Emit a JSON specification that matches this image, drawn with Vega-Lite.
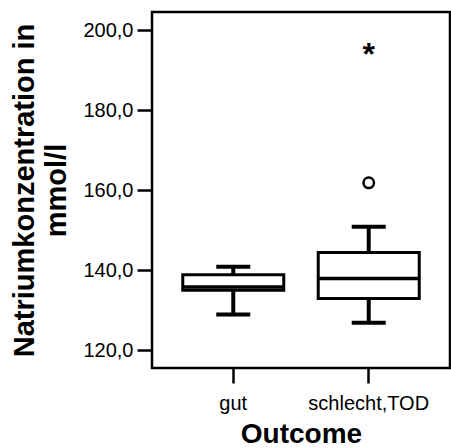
{
  "$schema": "https://vega.github.io/schema/vega-lite/v6.json",
  "width": 298,
  "height": 356,
  "autosize": "none",
  "padding": {"left": 152, "top": 12, "right": 1, "bottom": 80},
  "background": "white",
  "config": {
    "view": {"stroke": "black", "strokeWidth": 2.5},
    "axis": {"labelFont": "Liberation Sans", "titleFont": "Liberation Sans", "labelColor": "black", "titleColor": "black", "tickColor": "black", "grid": false, "domain": false},
    "tick": {"opacity": 1}
  },
  "datasets": {
    "boxes": [
      {"Outcome": "gut", "lower": 128.9, "q1": 134.95, "median": 135.75, "q3": 138.8, "upper": 140.8},
      {"Outcome": "schlecht,TOD", "lower": 126.8, "q1": 132.9, "median": 137.9, "q3": 144.4, "upper": 150.8}
    ],
    "outliers": [
      {"Outcome": "schlecht,TOD", "value": 161.8}
    ],
    "extremes": [
      {"Outcome": "schlecht,TOD", "value": 195.8}
    ]
  },
  "encoding": {
    "x": {
      "field": "Outcome", "type": "nominal",
      "scale": {"type": "band", "domain": ["gut", "schlecht,TOD"], "paddingInner": 0, "paddingOuter": 0.1},
      "axis": {"labelAngle": 0, "tickSize": 15, "tickWidth": 2.5, "labelFontSize": 20, "labelPadding": 10, "titleFontSize": 28, "titleFontWeight": "bold", "titlePadding": 7, "title": "Outcome"}
    }
  },
  "layer": [
    {
      "data": {"name": "boxes"},
      "mark": {"type": "rule", "color": "black", "strokeWidth": 4},
      "encoding": {
        "y": {"field": "lower", "type": "quantitative",
          "scale": {"domain": [115.5, 204.5], "nice": false, "zero": false},
          "axis": {"values": [120, 140, 160, 180, 200], "labelExpr": "replace(format(datum.value, '.1f'), '.', ',')", "tickSize": 15, "tickWidth": 2.5, "labelFontSize": 20, "labelPadding": 4, "title": ["Natriumkonzentration in", "mmol/l"], "titleFontSize": 29, "titleFontWeight": "bold", "titlePadding": 11, "titleLineHeight": 32, "titleAlign": "center"}},
        "y2": {"field": "upper"}
      }
    },
    {
      "data": {"name": "boxes"},
      "mark": {"type": "tick", "color": "black", "size": 34, "thickness": 4},
      "encoding": {"y": {"field": "lower", "type": "quantitative"}}
    },
    {
      "data": {"name": "boxes"},
      "mark": {"type": "tick", "color": "black", "size": 34, "thickness": 4},
      "encoding": {"y": {"field": "upper", "type": "quantitative"}}
    },
    {
      "data": {"name": "boxes"},
      "mark": {"type": "bar", "fill": "white", "stroke": "black", "strokeWidth": 3, "size": 101},
      "encoding": {
        "y": {"field": "q1", "type": "quantitative"},
        "y2": {"field": "q3"}
      }
    },
    {
      "data": {"name": "boxes"},
      "mark": {"type": "tick", "color": "black", "size": 101, "thickness": 3.5, "opacity": 1},
      "encoding": {"y": {"field": "median", "type": "quantitative"}}
    },
    {
      "data": {"name": "outliers"},
      "mark": {"type": "point", "shape": "circle", "filled": false, "stroke": "black", "strokeWidth": 2.5, "size": 110, "opacity": 1},
      "encoding": {"y": {"field": "value", "type": "quantitative"}}
    },
    {
      "data": {"name": "extremes"},
      "mark": {"type": "text", "text": "*", "font": "Liberation Sans", "fontSize": 32, "fontWeight": "bold", "color": "black", "baseline": "alphabetic", "align": "center", "dy": 18},
      "encoding": {"y": {"field": "value", "type": "quantitative"}}
    }
  ]
}
